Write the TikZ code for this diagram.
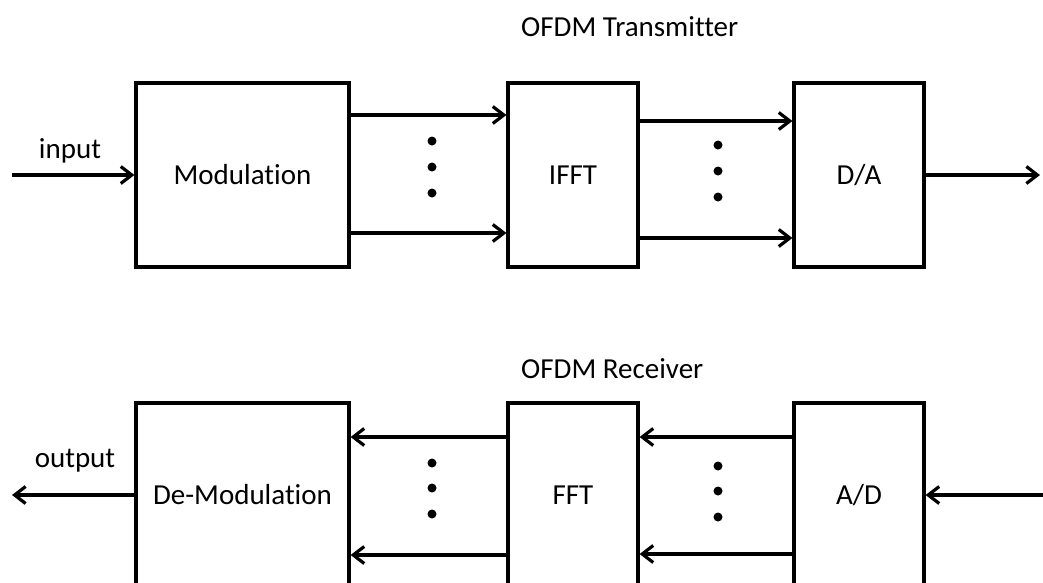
\documentclass[tikz,border=0pt]{standalone}
\usepackage{fontspec}
\setmainfont[Ligatures=NoCommon]{Carlito}
\usepackage{tikz}
\usetikzlibrary{positioning, arrows.meta}

\begin{document}
\begin{tikzpicture}[
    x=1pt, y=-1pt,
    font=\fontsize{29}{35}\selectfont,
    blockbox/.style={
        rectangle, draw=black, fill=white, line width=3.2pt,
        minimum height=184pt, align=center, inner sep=0pt
    },
    widebox/.style={blockbox, minimum width=213pt},
    narrowbox/.style={blockbox, minimum width=130pt},
    arrstyle/.style={-{Straight Barb[length=11pt, width=17pt]}, line width=3.2pt, black},
    dotnode/.style={circle, fill=black, inner sep=0pt, minimum size=9pt},
    sidelabel/.style={inner sep=0pt, anchor=base},
    titlelabel/.style={inner sep=0pt, anchor=base west},
]

% ---- Frame ----
\fill[white] (0,0) rectangle (1043,582);
\clip (0,0) rectangle (1043,582);

% ---- Transmitter ----
\node[titlelabel] (txtitle) at (521,36) {OFDM Transmitter};

\node[widebox] (mod) at (242.5,175) {Modulation};
\node[narrowbox] (ifft) at (573,175) {IFFT};
\node[narrowbox] (da) at (859,175) {D/A};

\coordinate (txin) at (12,175);
\coordinate (txout) at (1040,175);
\node[sidelabel] (inlab) at (70,158) {input};

\draw[arrstyle] (txin) -- (mod.west);
\draw[arrstyle] ([yshift=60pt]mod.east) -- ([yshift=60pt]ifft.west);
\draw[arrstyle] ([yshift=-58pt]mod.east) -- ([yshift=-58pt]ifft.west);
\draw[arrstyle] ([yshift=54pt]ifft.east) -- ([yshift=54pt]da.west);
\draw[arrstyle] ([yshift=-63pt]ifft.east) -- ([yshift=-63pt]da.west);
\draw[arrstyle] (da.east) -- (txout);

% dots between the parallel paths
\foreach \i/\yy in {1/141, 2/167, 3/193} {
    \node[dotnode] (txa\i) at (432,\yy) {};
    \node[dotnode] (txb\i) at (718,\yy+4) {};
}

% ---- Receiver ----
\node[titlelabel] (rxtitle) at (521,378) {OFDM Receiver};

\node[widebox] (demod) at (242.5,495) {De-Modulation};
\node[narrowbox] (fft) at (573,495) {FFT};
\node[narrowbox] (ad) at (859,495) {A/D};

\coordinate (rxin) at (1043,495);
\coordinate (rxout) at (12,495);
\node[sidelabel] (outlab) at (75,467) {output};

\draw[arrstyle] (rxin) -- (ad.east);
\draw[arrstyle] ([yshift=58pt]ad.west) -- ([yshift=58pt]fft.east);
\draw[arrstyle] ([yshift=-59pt]ad.west) -- ([yshift=-59pt]fft.east);
\draw[arrstyle] ([yshift=58pt]fft.west) -- ([yshift=58pt]demod.east);
\draw[arrstyle] ([yshift=-60pt]fft.west) -- ([yshift=-60pt]demod.east);
\draw[arrstyle] (demod.west) -- (rxout);

\foreach \i/\yy in {1/463, 2/488, 3/514} {
    \node[dotnode] (rxa\i) at (432,\yy) {};
    \node[dotnode] (rxb\i) at (718,\yy+3) {};
}

\end{tikzpicture}
\end{document}
